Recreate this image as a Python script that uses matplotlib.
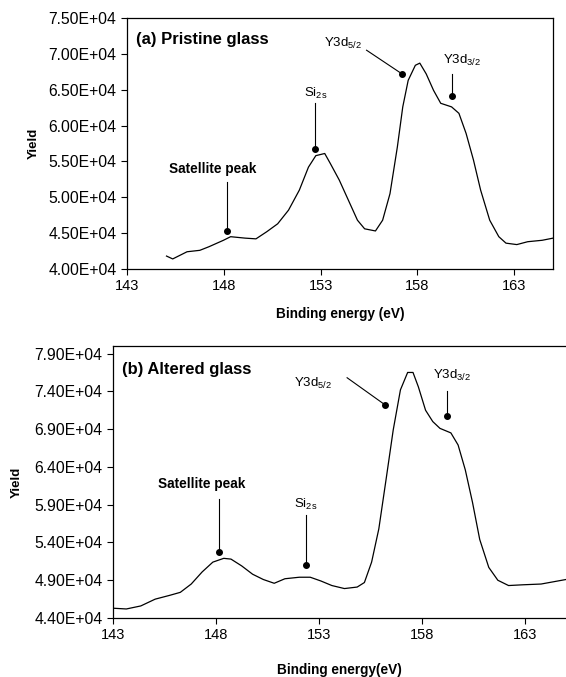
import numpy as np
import matplotlib
matplotlib.use("Agg")
import matplotlib.pyplot as plt
from matplotlib.ticker import FormatStrFormatter

plt.rcParams['font.family'] = ['Liberation Sans', 'DejaVu Sans']
plt.rcParams['mathtext.fontset'] = 'custom'
plt.rcParams['mathtext.rm'] = 'Liberation Sans'
plt.rcParams['mathtext.default'] = 'regular'

# (a) pristine glass spectrum
energy_a = [145.04, 145.36, 146.1, 146.76, 147.23, 147.98, 148.35, 149.1, 149.66,
            150.22, 150.78, 151.34, 151.9, 152.37, 152.75, 153.21, 153.5, 153.96,
            154.43, 154.9, 155.27, 155.83, 156.2, 156.58, 156.96, 157.24, 157.52,
            157.89, 158.12, 158.45, 158.83, 159.2, 159.76, 160.14, 160.51, 160.89,
            161.26, 161.73, 162.2, 162.57, 163.13, 163.69, 164.44, 165.0]
yield_a = [4.18e4, 4.14e4, 4.24e4, 4.26e4, 4.31e4, 4.40e4, 4.45e4, 4.43e4, 4.42e4,
           4.52e4, 4.63e4, 4.82e4, 5.10e4, 5.42e4, 5.58e4, 5.61e4, 5.47e4, 5.24e4,
           4.96e4, 4.68e4, 4.56e4, 4.53e4, 4.68e4, 5.05e4, 5.70e4, 6.26e4, 6.63e4,
           6.84e4, 6.87e4, 6.72e4, 6.49e4, 6.31e4, 6.26e4, 6.17e4, 5.89e4, 5.52e4,
           5.10e4, 4.68e4, 4.45e4, 4.36e4, 4.34e4, 4.38e4, 4.40e4, 4.43e4]

# (b) altered glass spectrum
energy_b = [143.0, 143.65, 144.35, 145.05, 145.75, 146.27, 146.8, 147.33, 147.85,
            148.38, 148.73, 149.25, 149.78, 150.3, 150.83, 151.35, 152.05, 152.58,
            153.1, 153.63, 154.24, 154.86, 155.21, 155.56, 155.91, 156.26, 156.61,
            156.96, 157.31, 157.57, 157.83, 158.18, 158.53, 158.88, 159.41, 159.76,
            160.11, 160.46, 160.81, 161.25, 161.69, 162.21, 162.91, 163.79, 165.0]
yield_b = [4.53e4, 4.52e4, 4.56e4, 4.65e4, 4.70e4, 4.74e4, 4.85e4, 5.01e4, 5.14e4,
           5.19e4, 5.18e4, 5.09e4, 4.98e4, 4.91e4, 4.86e4, 4.92e4, 4.94e4, 4.94e4,
           4.89e4, 4.83e4, 4.79e4, 4.81e4, 4.87e4, 5.14e4, 5.58e4, 6.23e4, 6.89e4,
           7.42e4, 7.65e4, 7.65e4, 7.46e4, 7.15e4, 7.00e4, 6.91e4, 6.85e4, 6.69e4,
           6.36e4, 5.93e4, 5.44e4, 5.07e4, 4.90e4, 4.83e4, 4.84e4, 4.85e4, 4.91e4]

x_ticks = [143, 148, 153, 158, 163]

# peak labels: (text, text x, text y, line start x, line start y, dot x, dot y, bold)
labels_a = [
    ("Satellite peak", 147.45, 5.40e4, 148.17, 5.21e4, 148.17, 4.53e4, True),
    ("Si$_{2s}$", 152.75, 6.45e4, 152.7, 6.31e4, 152.7, 5.67e4, False),
    ("Y3d$_{5/2}$", 154.15, 7.14e4, 155.37, 7.05e4, 157.2, 6.72e4, False),
    ("Y3d$_{3/2}$", 160.3, 6.91e4, 159.76, 6.72e4, 159.76, 6.41e4, False),
]
labels_b = [
    ("Satellite peak", 147.33, 6.17e4, 148.13, 5.97e4, 148.13, 5.27e4, True),
    ("Si$_{2s}$", 152.37, 5.90e4, 152.37, 5.76e4, 152.37, 5.10e4, False),
    ("Y3d$_{5/2}$", 152.72, 7.51e4, 154.37, 7.58e4, 156.22, 7.22e4, False),
    ("Y3d$_{3/2}$", 159.46, 7.61e4, 159.2, 7.40e4, 159.2, 7.07e4, False),
]

fig = plt.figure(figsize=(5.66, 6.77), dpi=100)
ax_a = fig.add_axes([0.2244, 0.6027, 0.7527, 0.3708])
ax_b = fig.add_axes([0.1996, 0.0871, 0.8004, 0.4018])


def draw_panel(ax, x, y, labels, title, ylim, yticks, xlab, ylab_x, xlab_y):
    ax.plot(x, y, color="black", lw=0.9)
    for txt, tx, ty, lx, ly, dx, dy, bold in labels:
        ax.text(tx, ty, txt, ha="center", va="center",
                fontsize=9.8 if bold else 9.5,
                fontweight="bold" if bold else "normal")
        ax.plot([lx, dx], [ly, dy], color="black", lw=0.8)
        ax.plot(dx, dy, "o", color="black", ms=4)
    ax.text(0.02, 0.915, title, transform=ax.transAxes, fontsize=12,
            fontweight="bold", va="center")
    ax.set_xlim(143, 165)
    ax.set_ylim(*ylim)
    ax.set_xticks(x_ticks)
    ax.set_yticks(yticks)
    ax.yaxis.set_major_formatter(FormatStrFormatter("%.2E"))
    ax.tick_params(length=4, width=0.8, direction="out")
    ax.tick_params(axis="x", labelsize=10.5)
    ax.tick_params(axis="y", labelsize=11.3)
    ax.set_xlabel(xlab, fontsize=9.8, fontweight="bold")
    ax.set_ylabel("Yield", fontsize=9.5, fontweight="bold")
    ax.yaxis.set_label_coords(ylab_x, 0.5)
    ax.xaxis.set_label_coords(0.5, xlab_y)
    for s in ax.spines.values():
        s.set_linewidth(0.9)


draw_panel(ax_a, energy_a, yield_a, labels_a, "(a) Pristine glass",
           (4.0e4, 7.5e4), np.arange(4.0e4, 7.51e4, 5000),
           "Binding energy (eV)", -0.204, -0.15)

draw_panel(ax_b, energy_b, yield_b, labels_b, "(b) Altered glass",
           (4.4e4, 8.0e4), np.arange(4.4e4, 7.91e4, 5000),
           "Binding energy(eV)", -0.199, -0.165)
ax_b.spines["right"].set_visible(False)

fig.savefig("out.png", dpi=100)
